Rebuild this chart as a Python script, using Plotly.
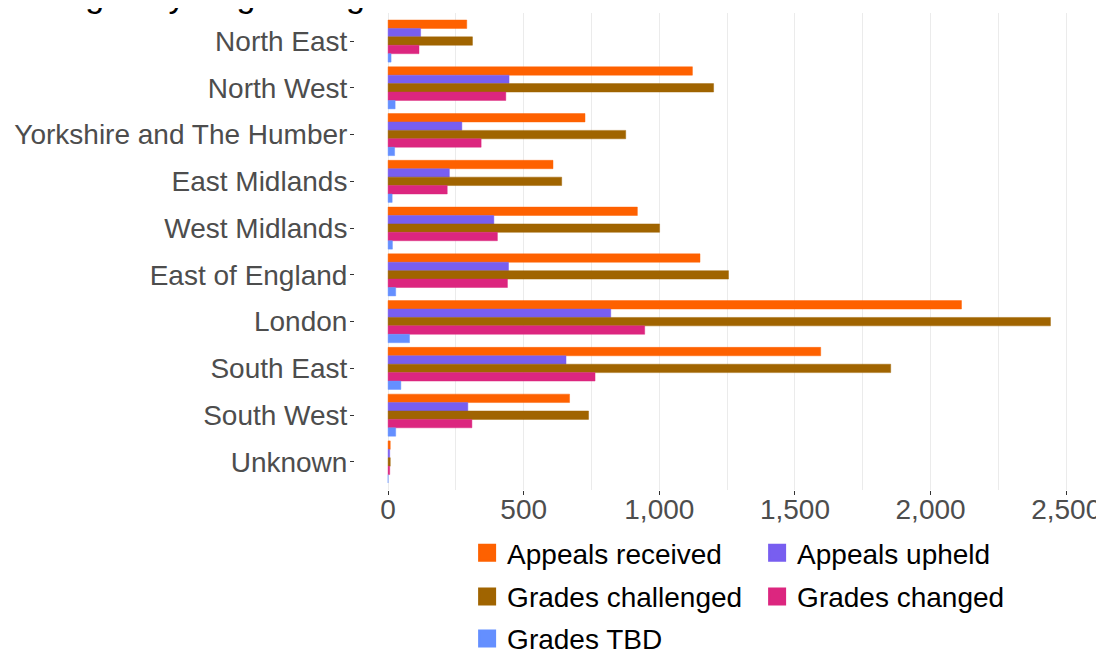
import plotly.graph_objects as go

regions = ["North East", "North West", "Yorkshire and The Humber", "East Midlands",
           "West Midlands", "East of England", "London", "South East", "South West", "Unknown"]

appeals_received = [290, 1122, 726, 608, 919, 1150, 2114, 1595, 669, 8]
appeals_upheld = [120, 446, 272, 226, 390, 444, 821, 656, 294, 6]
grades_challenged = [311, 1200, 876, 640, 1001, 1255, 2442, 1853, 739, 8]
grades_changed = [114, 434, 343, 218, 403, 440, 946, 763, 309, 6]
grades_tbd = [11, 26, 24, 15, 16, 28, 79, 47, 28, 0]

series_names = ["Appeals received", "Appeals upheld", "Grades challenged", "Grades changed", "Grades TBD"]
series_values = [appeals_received, appeals_upheld, grades_challenged, grades_changed, grades_tbd]
series_colors = ["#FE6100", "#785EF0", "#A06400", "#DC267F", "#648FFF"]
series_outline = ["rgba(254,97,0,0.45)", "rgba(120,94,240,0.45)", "rgba(160,100,0,0.45)",
                  "rgba(220,38,127,0.45)", "rgba(100,143,255,0.45)"]
legend_rows = ["legend", "legend", "legend2", "legend2", "legend3"]

x_tickvals = [0, 500, 1000, 1500, 2000, 2500]
x_ticktext = ["0", "500", "1,000", "1,500", "2,000", "2,500"]

title_text = "Changes by English region"

FONT = "Liberation Sans, Arial, sans-serif"

fig = go.Figure()
for name, vals, col, lcol, lg in zip(series_names, series_values, series_colors, series_outline, legend_rows):
    fig.add_trace(go.Bar(
        y=regions, x=vals, name=name, orientation="h",
        marker=dict(color=col, line=dict(color=lcol, width=1)),
        showlegend=False,
    ))
    fig.add_trace(go.Scatter(
        x=[None], y=[None], mode="markers", name=name, legend=lg,
        marker=dict(symbol="square", size=16, color=col, line=dict(color=col, width=2)),
        showlegend=True,
    ))

legend_common = dict(
    orientation="h", xanchor="left", yanchor="middle",
    font=dict(family=FONT, size=28, color="#000000"), entrywidth=245, entrywidthmode="pixels",
    itemsizing="trace", bgcolor="rgba(0,0,0,0)", borderwidth=0,
)

fig.update_layout(
    width=1104, height=650,
    margin=dict(l=347, r=29, t=5, b=168, pad=0, autoexpand=False),
    paper_bgcolor="white", plot_bgcolor="white",
    barmode="group", bargap=0.1, bargroupgap=0,
    font=dict(family=FONT, size=28, color="#4D4D4D"),
    xaxis=dict(
        range=[-122, 2562], tickvals=x_tickvals, ticktext=x_ticktext,
        showgrid=False, zeroline=False, showline=False,
        ticks="outside", ticklen=4, tickcolor="#333333", tickwidth=1,
        tickfont=dict(size=28, color="#4D4D4D"), ticklabelstandoff=-10,
        minor=dict(dtick=250, tick0=0, showgrid=True, gridcolor="#EBEBEB", gridwidth=1),
    ),
    yaxis=dict(
        autorange=False, range=[9.6, -0.6], categoryorder="array", categoryarray=regions,
        showgrid=False, zeroline=False, showline=False,
        ticks="outside", ticklen=4, tickcolor="#333333", tickwidth=1,
        tickfont=dict(size=28, color="#4D4D4D"), ticklabelstandoff=-3,
    ),
    legend=dict(x=0.154, y=-0.132, **legend_common),
    legend2=dict(x=0.154, y=-0.224, **legend_common),
    legend3=dict(x=0.154, y=-0.312, **legend_common),
    showlegend=True,
)

fig.add_annotation(
    text=title_text, xref="paper", yref="paper", x=-0.485, y=0.9937,
    xanchor="left", yanchor="bottom", showarrow=False,
    font=dict(family=FONT, size=34, color="#000000"),
)

fig.write_html("out.html")
